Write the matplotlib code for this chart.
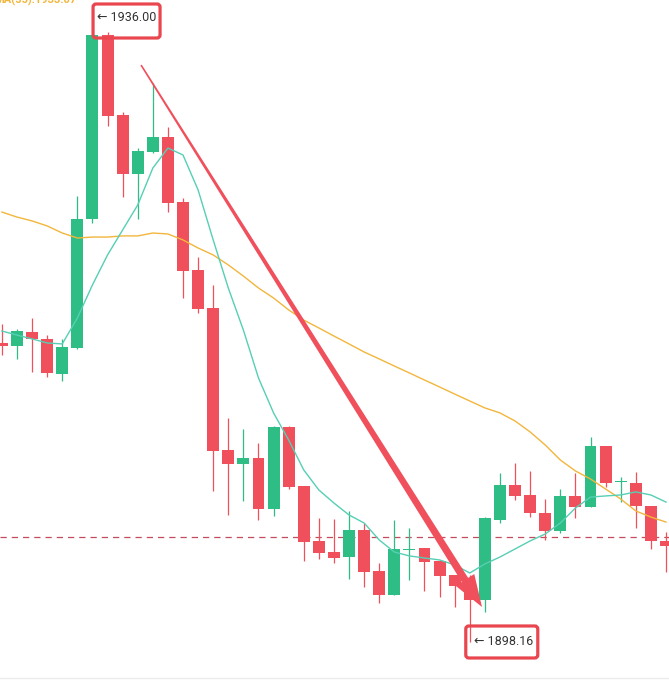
import numpy as np
import matplotlib.pyplot as plt
from matplotlib.patches import Polygon, FancyBboxPatch
from matplotlib.transforms import IdentityTransform

# candle data (prices)
opens = [1916.71, 1916.52, 1917.39, 1916.96, 1914.78, 1916.40, 1924.40, 1935.81, 1930.85, 1927.19,
         1928.56, 1929.49, 1925.45, 1921.24, 1918.88, 1910.07, 1909.20, 1909.57, 1906.41, 1911.50,
         1907.84, 1904.43, 1903.74, 1903.43, 1905.11, 1902.56, 1901.08, 1903.87, 1903.99, 1903.18,
         1902.32, 1901.63, 1900.77, 1905.73, 1907.90, 1907.28, 1906.16, 1905.05, 1907.22, 1906.53,
         1910.32, 1908.06, 1908.02, 1906.60, 1904.43]
highs = [1917.89, 1917.58, 1918.26, 1917.20, 1916.96, 1925.83, 1935.81, 1936.00, 1931.04, 1928.80,
         1932.84, 1930.11, 1925.70, 1922.04, 1920.31, 1912.06, 1911.37, 1910.50, 1911.56, 1911.56,
         1907.84, 1905.85, 1905.79, 1906.29, 1905.54, 1903.06, 1905.73, 1905.23, 1903.99, 1903.18,
         1902.32, 1902.32, 1905.91, 1908.64, 1909.26, 1908.77, 1907.03, 1907.65, 1908.64, 1910.88,
         1910.32, 1908.40, 1908.71, 1906.60, 1904.98]
lows = [1915.96, 1915.72, 1914.91, 1914.60, 1914.35, 1916.34, 1924.15, 1930.17, 1925.76, 1924.40,
        1928.49, 1924.83, 1919.50, 1918.57, 1907.53, 1906.04, 1906.91, 1905.73, 1905.98, 1907.65,
        1903.18, 1903.31, 1903.06, 1902.07, 1901.57, 1900.58, 1901.08, 1902.01, 1901.32, 1900.95,
        1900.33, 1898.16, 1900.02, 1905.54, 1906.97, 1905.91, 1904.49, 1904.92, 1905.85, 1906.53,
        1907.78, 1906.84, 1905.23, 1903.93, 1902.50]
closes = [1916.52, 1917.45, 1916.96, 1914.85, 1916.46, 1924.40, 1935.81, 1930.79, 1927.19, 1928.62,
          1929.49, 1925.39, 1921.17, 1918.82, 1910.01, 1909.20, 1909.57, 1906.41, 1911.50, 1907.78,
          1904.36, 1903.68, 1903.37, 1905.11, 1902.50, 1901.08, 1903.93, 1903.93, 1903.12, 1902.25,
          1901.63, 1900.77, 1905.85, 1907.90, 1907.22, 1906.16, 1905.05, 1907.22, 1906.53, 1910.32,
          1908.02, 1908.09, 1906.60, 1904.43, 1904.12]

ma_short = [1917.45, 1917.20, 1916.96, 1916.71, 1916.65, 1918.26, 1920.31, 1922.17, 1923.72, 1925.27,
            1927.56, 1928.80, 1928.37, 1926.20, 1923.10, 1920.12, 1917.51, 1914.54, 1912.37, 1910.69,
            1908.83, 1907.59, 1906.78, 1906.04, 1905.54, 1904.49, 1903.74, 1903.50, 1903.37, 1903.25,
            1902.94, 1902.44, 1903.00, 1903.43, 1903.93, 1904.43, 1904.86, 1905.54, 1906.47, 1907.15,
            1907.22, 1907.28, 1907.47, 1907.28, 1906.84]
ma_long = [1924.83, 1924.52, 1924.28, 1923.97, 1923.53, 1923.22, 1923.28, 1923.28, 1923.35, 1923.35,
           1923.53, 1923.47, 1923.10, 1922.60, 1922.17, 1921.55, 1920.86, 1920.12, 1919.50, 1918.76,
           1918.13, 1917.64, 1917.14, 1916.65, 1916.15, 1915.72, 1915.28, 1914.85, 1914.41, 1913.98,
           1913.54, 1913.11, 1912.68, 1912.37, 1911.87, 1911.19, 1910.38, 1909.45, 1908.77, 1908.27,
           1907.65, 1907.03, 1906.29, 1905.91, 1905.60]

last_price = 1904.67
high_label = "← 1936.00"
low_label = "← 1898.16"
ma_text = "MA(55):1933.07"
# trend arrow drawn on the chart: (candle index, price)
arrow_from = (9.22, 1933.95)
arrow_to = (31.81, 1900.33)

GREEN = "#2ebd85"
RED = "#f0505c"
BOX_RED = "#e9464f"

fig = plt.figure(figsize=(6.69, 6.82), dpi=100)
ax = fig.add_axes([0, 0, 1, 1])
ax.set_xlim(-0.126, 44.2)
ax.set_ylim(1895.678, 1937.985)
ax.axis("off")

x = np.arange(len(opens))
o = np.array(opens)
c = np.array(closes)
up = c >= o
cols = np.where(up, GREEN, RED)

ax.vlines(x, lows, highs, colors=cols, linewidth=0.9, zorder=2)
bottoms = np.minimum(o, c)
heights = np.maximum(np.abs(c - o), 0.07)
ax.bar(x, heights, bottom=bottoms, width=0.79, color=cols, linewidth=0, zorder=3)

ax.plot(x, ma_long, color="#f2b63c", linewidth=1.0, zorder=4)
ax.plot(x, ma_short, color="#56cfb4", linewidth=1.0, zorder=4)

ax.axhline(last_price, color="#c44b5e", linewidth=0.9, dashes=(5, 4), zorder=1)

# tapered arrow, built in pixel space
fig.canvas.draw()
T = ax.transData.transform(arrow_from)
P = ax.transData.transform(arrow_to)
d = (P - T) / np.hypot(*(P - T))
n = np.array([-d[1], d[0]])
base = P - d * 32
pts = [T + n * 0.8, base + n * 3.8, base + n * 11, P,
       base - n * 11, base - n * 3.8, T - n * 0.8]
ax.add_patch(Polygon(pts, closed=True, facecolor=RED, edgecolor="none",
                     transform=IdentityTransform(), zorder=6))

# high / low markers with the red boxes
def marker(xy, text, tx, ty, bx, by, bw, bh):
    ax.annotate(text, xy=xy, xytext=(tx, ty), textcoords="offset pixels",
                ha="left", va="center", fontsize=9, color="#333333",
                family=["Roboto", "DejaVu Sans"], zorder=8)
    px, py = ax.transData.transform(xy)
    ax.add_patch(FancyBboxPatch((px + bx, py + by), bw, bh,
                                boxstyle="round,pad=0,rounding_size=3",
                                facecolor="none", edgecolor=BOX_RED, linewidth=2.3,
                                transform=IdentityTransform(), zorder=9))

marker((7, highs[7]), high_label, -11, 14, -14.5, -6, 67, 34)
marker((31, lows[31]), low_label, 4, 0, -4, -16, 72, 32)

# legend text sits half out of the top edge, as in the screenshot
fig.text(-0.008, 1 - 3.5 / 682, ma_text, color="#f2b63c", fontsize=8,
         family=["Roboto", "DejaVu Sans"], fontweight="bold", va="baseline", ha="left")
fig.add_artist(plt.Line2D([0, 1], [4 / 682, 4 / 682], color="#ececec", linewidth=1))

fig.savefig("out.png", dpi=100, facecolor="white")
